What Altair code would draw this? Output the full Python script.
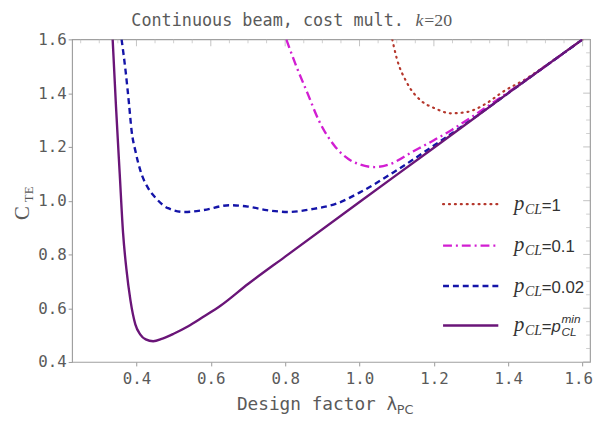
import altair as alt
import pandas as pd

W, H = 525, 327

# ---- data ----
x_pmin = [0.336, 0.345, 0.355, 0.364, 0.373, 0.384, 0.397, 0.41, 0.425, 0.445, 0.47, 0.5, 0.538, 0.58, 0.626, 0.7, 0.8, 1.0, 1.2, 1.4, 1.6]
y_pmin = [1.6, 1.35, 1.1, 0.88, 0.745, 0.628, 0.54, 0.503, 0.484, 0.477, 0.487, 0.505, 0.532, 0.568, 0.609, 0.69, 0.792, 0.995, 1.197, 1.4, 1.6]

x_p002 = [0.36, 0.371, 0.38, 0.387, 0.398, 0.411, 0.43, 0.45, 0.485, 0.53, 0.58, 0.65, 0.7, 0.75, 0.81, 0.87, 0.94, 1.0, 1.1, 1.2, 1.3, 1.4, 1.6]
y_p002 = [1.6, 1.48, 1.36, 1.26, 1.18, 1.11, 1.05, 1.013, 0.972, 0.958, 0.965, 0.983, 0.978, 0.965, 0.958, 0.968, 0.99, 1.03, 1.113, 1.205, 1.3, 1.4, 1.6]

x_p01 = [0.803, 0.83, 0.86, 0.89, 0.935, 0.97, 1.0, 1.04, 1.08, 1.14, 1.2, 1.25, 1.3, 1.4, 1.5, 1.6]
y_p01 = [1.6, 1.5, 1.4, 1.3, 1.2, 1.155, 1.135, 1.125, 1.135, 1.18, 1.225, 1.265, 1.31, 1.403, 1.5, 1.6]

x_p1 = [1.088, 1.1, 1.127, 1.167, 1.2, 1.247, 1.29, 1.316, 1.35, 1.38, 1.45, 1.5, 1.6]
y_p1 = [1.6, 1.53, 1.44, 1.37, 1.345, 1.325, 1.33, 1.343, 1.37, 1.4, 1.455, 1.502, 1.6]

x_ticks = [0.4, 0.6, 0.8, 1.0, 1.2, 1.4, 1.6]
y_ticks = [0.4, 0.6, 0.8, 1.0, 1.2, 1.4, 1.6]
x_minor = [0.25, 0.3, 0.35, 0.45, 0.5, 0.55, 0.65, 0.7, 0.75, 0.85, 0.9, 0.95,
           1.05, 1.1, 1.15, 1.25, 1.3, 1.35, 1.45, 1.5, 1.55]
y_minor = [0.45, 0.5, 0.55, 0.65, 0.7, 0.75, 0.85, 0.9, 0.95, 1.05, 1.1, 1.15,
           1.25, 1.3, 1.35, 1.45, 1.5, 1.55]

series = [
    ("p1", x_p1, y_p1, "#b5372c", [1, 5]),
    ("p01", x_p01, y_p01, "#d21ed2", [9, 4, 2, 4]),
    ("p002", x_p002, y_p002, "#1414a8", [6, 4]),
    ("pmin", x_pmin, y_pmin, "#6a1578", None),
]

rows = []
for name, xs, ys, _, _ in series:
    for i, (a, b) in enumerate(zip(xs, ys)):
        rows.append({"series": name, "x": a, "y": b, "order": i})
df = pd.DataFrame(rows)

MONO = "DejaVu Sans Mono"
GRAY = "#5a5a5a"

xscale = alt.Scale(domain=[0.227, 1.62], nice=False, zero=False)
yscale = alt.Scale(domain=[0.4, 1.6], nice=False, zero=False)
xaxis = alt.Axis(values=x_ticks, format=".1f", title=None, grid=False, domain=False,
                 labelFont=MONO, labelFontSize=16, labelColor=GRAY, tickColor="#999",
                 tickSize=4, labelPadding=5, labelFlush=10, labelFlushOffset=10)
yaxis = alt.Axis(values=y_ticks, format=".1f", title=None, grid=False, domain=False,
                 labelFont=MONO, labelFontSize=16, labelColor=GRAY, tickColor="#999",
                 tickSize=4, labelPadding=2, labelFlush=False)
xenc = alt.X("x:Q", scale=xscale, axis=xaxis)
yenc = alt.Y("y:Q", scale=yscale, axis=yaxis)

layers = []
for name, xs, ys, color, dash in series:
    kw = dict(color=color, strokeWidth=2.4, interpolate="monotone", clip=True)
    if dash:
        kw["strokeDash"] = dash
    if name == "p1":
        kw["strokeCap"] = "round"
        kw["strokeWidth"] = 2.2
    layers.append(
        alt.Chart(df).transform_filter(alt.datum.series == name)
        .mark_line(**kw).encode(x=xenc, y=yenc, order="order:Q")
    )

# inward ticks on top and right frame
tdf_x_major = pd.DataFrame({"x": x_ticks})
tdf_x_minor = pd.DataFrame({"x": x_minor})
tdf_y_major = pd.DataFrame({"y": y_ticks})
tdf_y_minor = pd.DataFrame({"y": y_minor})
layers.append(alt.Chart(tdf_x_major).mark_tick(color="#aaa", size=7, thickness=1)
              .encode(x=xenc, y=alt.value(3.5)))
layers.append(alt.Chart(tdf_x_minor).mark_tick(color="#bbb", size=4, thickness=1)
              .encode(x=xenc, y=alt.value(2)))
layers.append(alt.Chart(tdf_y_major).mark_tick(color="#aaa", size=7, thickness=1)
              .encode(y=yenc, x=alt.value(W - 3.5)))
layers.append(alt.Chart(tdf_y_minor).mark_tick(color="#bbb", size=4, thickness=1)
              .encode(y=yenc, x=alt.value(W - 2)))

one = pd.DataFrame({"a": [0]})


def txt(s, x, y, size, font, color=GRAY, style="normal", angle=0, align="left"):
    kw = dict(text=s, font=font, fontSize=size, color=color, fontStyle=style,
              align=align, baseline="alphabetic")
    if angle:
        kw["angle"] = angle
    return alt.Chart(one).mark_text(**kw).encode(x=alt.value(x), y=alt.value(y))


SERIF = "Liberation Serif"
SANS = "Liberation Sans"

# title
layers.append(txt("Continuous beam, cost mult. ", 60, -14, 17, MONO))
layers.append(txt("k", 348, -14, 18, SERIF, style="italic"))
layers.append(txt("=20", 357, -14, 18, SERIF))

# x title
layers.append(txt("Design factor λ", 167, 376, 18, MONO))
layers.append(txt("PC", 329, 380, 13, "DejaVu Sans"))

# y title (rotated)
layers.append(txt("C", -44, 183, 21, SERIF, angle=270, align="left"))
layers.append(txt("TE", -40, 165, 13, SERIF, angle=270, align="left"))

# manual legend
leg_rows = [167, 209, 250, 290]
leg_vals = ["=1", "=0.1", "=0.02", None]
for (name, xs, ys, color, dash), ry, val in zip(series, leg_rows, leg_vals):
    kw = dict(color=color, strokeWidth=2.4)
    if dash:
        kw["strokeDash"] = dash
    if name == "p1":
        kw["strokeCap"] = "round"
        kw["strokeWidth"] = 2.2
    layers.append(alt.Chart(one).mark_rule(**kw)
                  .encode(x=alt.value(376), x2=alt.value(432), y=alt.value(ry)))
    layers.append(txt("p", 448, ry + 6, 21, SERIF, color="#333", style="italic"))
    layers.append(txt("CL", 459, ry + 10, 14, SERIF, color="#333", style="italic"))
    if val is not None:
        layers.append(txt(val, 476, ry + 7, 17, SANS, color="#333"))
    else:
        layers.append(txt("=", 476, ry + 7, 17, SANS, color="#333"))
        layers.append(txt("p", 486, ry + 7, 17, SANS, color="#333", style="italic"))
        layers.append(txt("min", 496, ry - 2, 12, SANS, color="#333", style="italic"))
        layers.append(txt("CL", 496, ry + 11, 12, SANS, color="#333", style="italic"))

chart = alt.layer(*layers).properties(
    width=W, height=H,
    autosize=alt.AutoSizeParams(type="none"),
    padding={"left": 65, "top": 29, "right": 4, "bottom": 55},
).configure_view(stroke="#a0a0a0", strokeWidth=1.2)

chart.save("out.html", embed_options={"renderer": "svg", "actions": False})
